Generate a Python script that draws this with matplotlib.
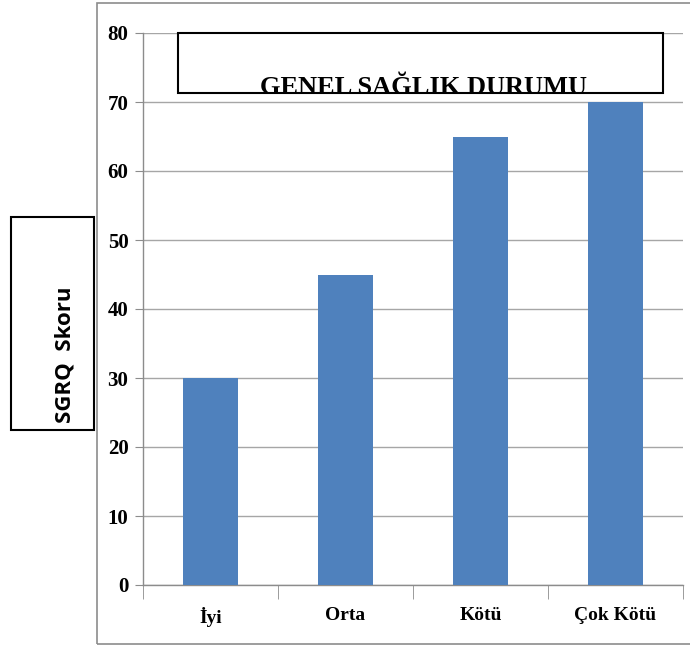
import matplotlib
matplotlib.use('Agg')
import matplotlib.pyplot as plt
from matplotlib.patches import Rectangle

categories = ['İyi', 'Orta', 'Kötü', 'Çok Kötü']
scores = [30, 45, 65, 70]
yticks = [0, 10, 20, 30, 40, 50, 60, 70, 80]

W, H = 690, 646
fig = plt.figure(figsize=(W / 100, H / 100), dpi=100)

# outer chart frame (cut off on the right)
fig.add_artist(Rectangle((97 / W, 1 - 644 / H), 1.0, 641 / H, transform=fig.transFigure,
                         fill=False, edgecolor='#8c8c8c', linewidth=1.2))

ax = fig.add_axes([143 / W, 1 - 585 / H, 540 / W, 552 / H])
x = list(range(len(categories)))
ax.bar(x, scores, width=0.41, color='#4f81bd', zorder=3)

ax.set_xlim(-0.5, len(categories) - 0.5)
ax.set_ylim(0, 80)
ax.set_yticks(yticks)
ax.set_xticks(x)
ax.set_xticklabels(categories)
ax.set_xticks([i - 0.5 for i in range(len(categories) + 1)], minor=True)

for lab in ax.get_xticklabels():
    lab.set_fontfamily('Liberation Serif')
    lab.set_fontweight('bold')
    lab.set_fontsize(14)
for lab in ax.get_yticklabels():
    lab.set_fontfamily('Liberation Serif')
    lab.set_fontweight('bold')
    lab.set_fontsize(15)

ax.grid(axis='y', color='#a6a6a6', linewidth=1.0, zorder=0)
for s in ['top', 'right']:
    ax.spines[s].set_visible(False)
for s in ['left', 'bottom']:
    ax.spines[s].set_color('#8c8c8c')
    ax.spines[s].set_linewidth(1.0)
ax.tick_params(axis='y', direction='out', length=5.5, color='#8c8c8c', pad=5)
ax.tick_params(axis='x', which='major', length=0, pad=16)
ax.tick_params(axis='x', which='minor', direction='out', length=10, color='#8c8c8c')

# title box, text clipped by the box
tbox = Rectangle((178 / W, 1 - 93 / H), 485 / W, 60 / H, transform=fig.transFigure,
                 facecolor='white', edgecolor='black', linewidth=1.5, zorder=5)
fig.add_artist(tbox)
t = fig.text(423 / W, 1 - 94 / H, 'GENEL SAĞLIK DURUMU', ha='center', va='baseline',
             fontfamily='Liberation Serif', fontweight='bold', fontsize=19, zorder=6)
t.set_clip_on(True)
t.set_clip_path(tbox)

# y label box
ybox = Rectangle((11 / W, 1 - 430 / H), 83 / W, 213 / H, transform=fig.transFigure,
                 facecolor='white', edgecolor='black', linewidth=1.5, zorder=5)
fig.add_artist(ybox)
fig.text(65 / W, 1 - 355 / H, 'SGRQ  Skoru', rotation=90, ha='center', va='center',
         fontfamily='Open Sans', fontweight='bold', fontsize=16, zorder=6)

fig.savefig('out.png', dpi=100)
